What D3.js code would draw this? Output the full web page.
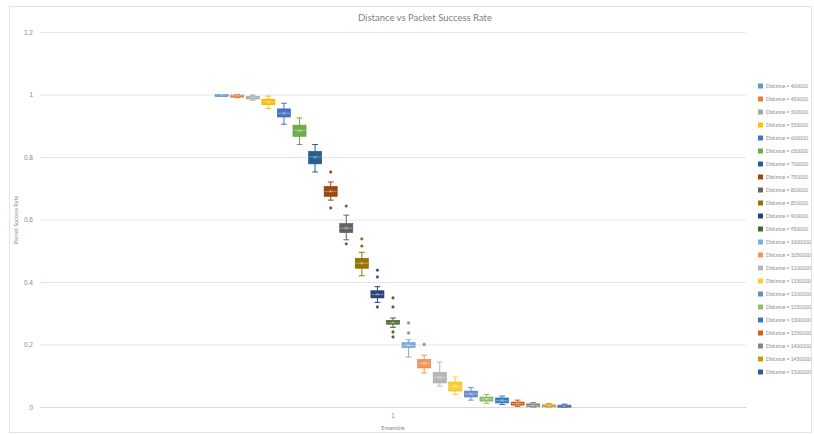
<!DOCTYPE html>
<html>
<head>
<meta charset="utf-8">
<script src="https://cdn.jsdelivr.net/npm/d3@7"></script>
<style>
  body { margin: 0; background: #fff; }
  svg { display: block; font-family: Lato, "Open Sans", "Liberation Sans", sans-serif; }
</style>
</head>
<body>
<svg id="chart" width="814" height="434"></svg>
<script>
// ---- data ----
const categories = ["1"];
const seriesNames = [
  "Distance = 400000","Distance = 450000","Distance = 500000","Distance = 550000",
  "Distance = 600000","Distance = 650000","Distance = 700000","Distance = 750000",
  "Distance = 800000","Distance = 850000","Distance = 900000","Distance = 950000",
  "Distance = 1000000","Distance = 1050000","Distance = 1100000","Distance = 1150000",
  "Distance = 1200000","Distance = 1250000","Distance = 1300000","Distance = 1350000",
  "Distance = 1400000","Distance = 1450000","Distance = 1500000"
];
const colors = [
  "#5B9BD5","#ED7D31","#A5A5A5","#FFC000","#4472C4","#70AD47",
  "#255E91","#9E480E","#636363","#997300","#264478","#43682B",
  "#7CAFDD","#F1975A","#B7B7B7","#FFCD33","#698ED0","#8CC168",
  "#327DC2","#D26012","#848484","#CC9A00","#335AA1"
];
const whiskerLow  = [0.995,0.990,0.982,0.955,0.905,0.840,0.752,0.662,0.535,0.420,0.335,0.255,0.160,0.109,0.067,0.040,0.022,0.012,0.008,0.002,0.000,0.000,0.000];
const q1          = [0.997,0.993,0.986,0.968,0.928,0.866,0.778,0.674,0.558,0.444,0.349,0.265,0.190,0.125,0.077,0.051,0.032,0.019,0.013,0.006,0.002,0.001,0.000];
const medians     = [0.999,0.996,0.990,0.977,0.940,0.885,0.800,0.690,0.572,0.460,0.360,0.270,0.197,0.140,0.095,0.066,0.042,0.026,0.020,0.011,0.005,0.004,0.003];
const q3          = [1.000,0.998,0.993,0.985,0.954,0.902,0.818,0.706,0.587,0.476,0.372,0.277,0.206,0.152,0.110,0.080,0.051,0.032,0.029,0.016,0.010,0.007,0.006];
const whiskerHigh = [1.000,1.000,0.998,0.995,0.972,0.925,0.840,0.720,0.614,0.495,0.385,0.285,0.215,0.166,0.144,0.096,0.062,0.040,0.035,0.022,0.014,0.011,0.009];
const means       = [0.998,0.996,0.990,0.976,0.940,0.884,0.799,0.690,0.573,0.461,0.361,0.271,0.197,0.139,0.094,0.066,0.042,0.026,0.021,0.011,0.006,0.004,0.003];
const outliers = [
  [],[],[],[],[],[],[],
  [0.752,0.637],
  [0.643,0.522],
  [0.538,0.515],
  [0.438,0.416,0.320],
  [0.349,0.320,0.240,0.224],
  [0.269,0.237],
  [0.200],
  [],[],[],[],[],[],[],[],[]
];
const yTicks = [0, 0.2, 0.4, 0.6, 0.8, 1, 1.2];

// ---- layout ----
const svg = d3.select("#chart");
const W = 814, H = 434;
const plot = { left: 40, right: 746, top: 32, bottom: 407 };

svg.append("rect").attr("x", 9.5).attr("y", 6.5).attr("width", W - 12).attr("height", H - 8)
  .attr("fill", "#fff").attr("stroke", "#e4e4e4");

const y = d3.scaleLinear().domain([0, 1.2]).range([plot.bottom, plot.top]);
const x0 = d3.scaleBand().domain(categories).range([plot.left, plot.right]).paddingInner(0).paddingOuter(0.485);
const x1 = d3.scaleBand().domain(seriesNames).range([0, x0.bandwidth()]).paddingInner(0.16).paddingOuter(0.08);

// grid
const yAxis = d3.axisLeft(y).tickValues(yTicks).tickSize(-(plot.right - plot.left)).tickPadding(7)
  .tickFormat(d => d === 0 ? "0" : d3.format("~g")(d));
const gy = svg.append("g").attr("transform", `translate(${plot.left},0)`).call(yAxis);
gy.select(".domain").remove();
gy.selectAll(".tick line").attr("stroke", "#e6e6e6").attr("stroke-width", 1);
gy.selectAll(".tick text").attr("fill", "#8a8a8a").attr("font-size", 6.5);

// x axis
const xAxis = d3.axisBottom(x0).tickSize(0).tickPadding(6);
const gx = svg.append("g").attr("transform", `translate(0,${plot.bottom})`).call(xAxis);
gx.select(".domain").attr("stroke", "#d9d9d9");
gx.selectAll(".tick text").attr("fill", "#8a8a8a").attr("font-size", 6.5);

// titles
svg.append("text").attr("x", 425).attr("y", 21).attr("text-anchor", "middle")
  .attr("font-size", 9.5).attr("fill", "#7f7f7f").text("Distance vs Packet Success Rate");
svg.append("text").attr("transform", "translate(18,220) rotate(-90)").attr("text-anchor", "middle")
  .attr("font-size", 5.5).attr("fill", "#8a8a8a").text("Packet Success Rate");
svg.append("text").attr("x", x0("1") + x0.bandwidth() / 2).attr("y", 430).attr("text-anchor", "middle")
  .attr("font-size", 5.5).attr("fill", "#8a8a8a").text("Ensemble");

// boxes
const g = svg.append("g").attr("transform", `translate(${x0("1")},0)`);
const bw = x1.bandwidth();
seriesNames.forEach((name, i) => {
  const cx = x1(name) + bw / 2;
  const c = colors[i];
  const sg = g.append("g");
  // whiskers
  sg.append("line").attr("x1", cx).attr("x2", cx).attr("y1", y(whiskerHigh[i])).attr("y2", y(q3[i]))
    .attr("stroke", c).attr("stroke-width", 1);
  sg.append("line").attr("x1", cx).attr("x2", cx).attr("y1", y(q1[i])).attr("y2", y(whiskerLow[i]))
    .attr("stroke", c).attr("stroke-width", 1);
  [whiskerHigh[i], whiskerLow[i]].forEach(v => {
    sg.append("line").attr("x1", cx - bw * 0.22).attr("x2", cx + bw * 0.22).attr("y1", y(v)).attr("y2", y(v))
      .attr("stroke", c).attr("stroke-width", 1);
  });
  // box
  const top = y(q3[i]), bot = y(q1[i]);
  sg.append("rect").attr("x", x1(name)).attr("width", bw)
    .attr("y", top).attr("height", Math.max(2, bot - top))
    .attr("fill", c).attr("stroke", d3.color(c).darker(0.4)).attr("stroke-width", 0.6);
  // median
  sg.append("line").attr("x1", x1(name) + 0.5).attr("x2", x1(name) + bw - 0.5)
    .attr("y1", y(medians[i])).attr("y2", y(medians[i]))
    .attr("stroke", "#ffffff").attr("stroke-opacity", 0.45).attr("stroke-width", 0.8);
  // mean marker (x)
  const my = y(means[i]);
  sg.append("path").attr("d", `M${cx - 1.5},${my - 1.5}L${cx + 1.5},${my + 1.5}M${cx - 1.5},${my + 1.5}L${cx + 1.5},${my - 1.5}`)
    .attr("stroke", "#ffffff").attr("stroke-opacity", 0.5).attr("stroke-width", 0.7);
  // outliers
  outliers[i].forEach(v => {
    sg.append("circle").attr("cx", cx).attr("cy", y(v)).attr("r", 1.4)
      .attr("fill", d3.color(c).darker(0.3)).attr("stroke", "#888").attr("stroke-width", 0.4);
  });
});

// legend
const lg = svg.append("g").attr("transform", "translate(758,86)");
seriesNames.forEach((name, i) => {
  const row = lg.append("g").attr("transform", `translate(0,${i * 13})`);
  row.append("rect").attr("x", 0).attr("y", -2.5).attr("width", 5).attr("height", 5).attr("fill", colors[i]);
  row.append("text").attr("x", 8).attr("y", 0).attr("dy", "0.35em").attr("font-size", 5)
    .attr("fill", "#8a8a8a").text(name);
});
</script>
</body>
</html>
